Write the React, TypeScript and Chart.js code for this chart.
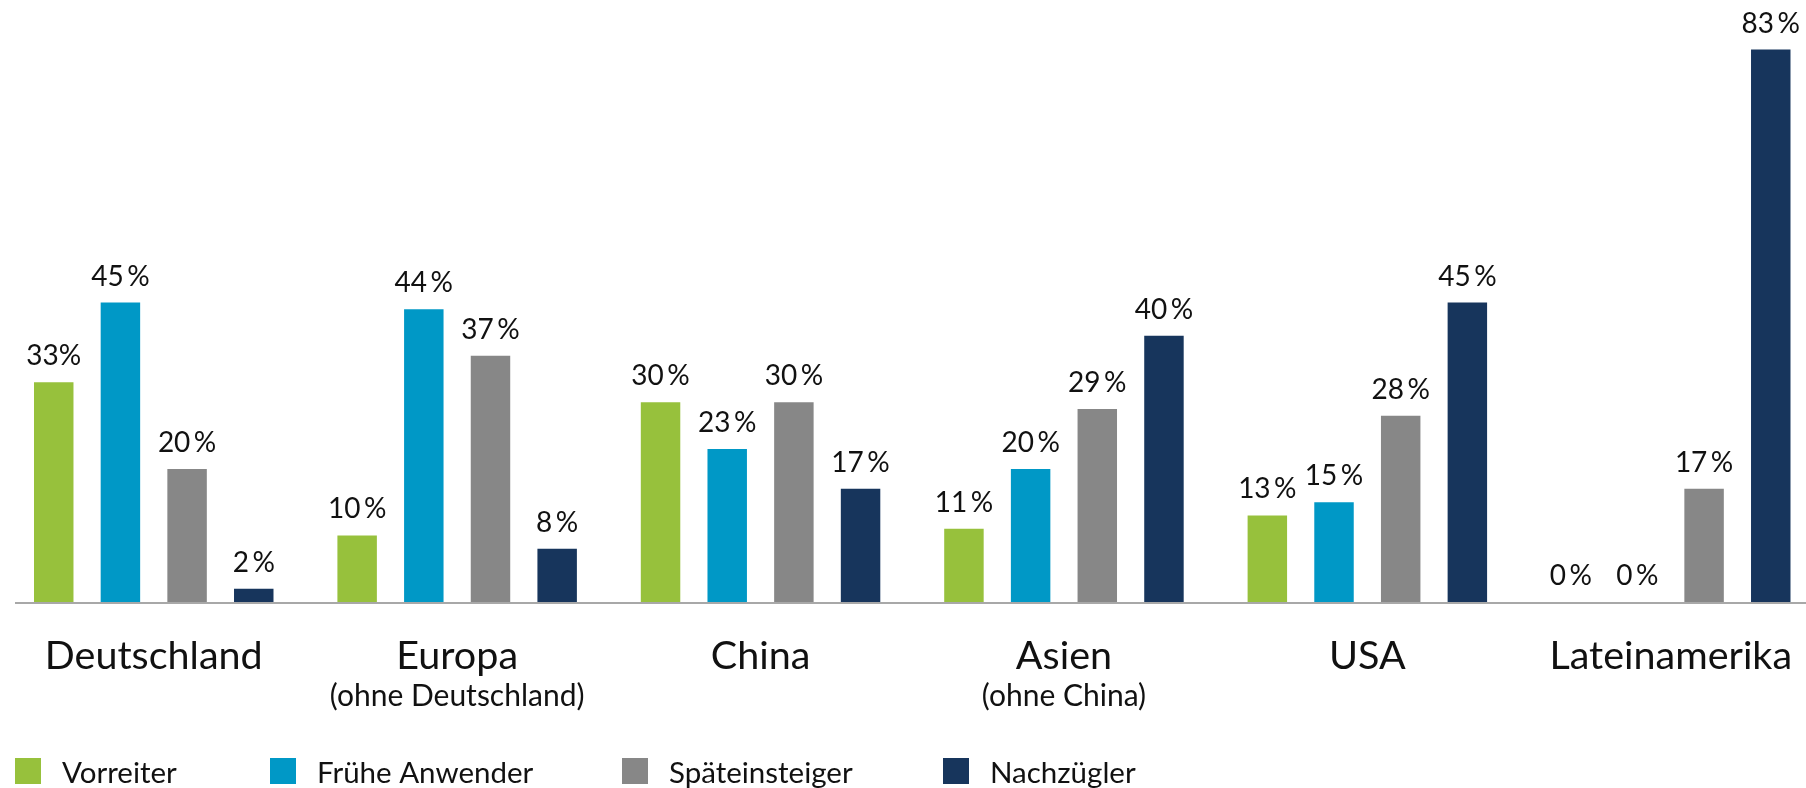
import React, { useEffect, useRef } from "react";
import { Chart, registerables } from "chart.js";

Chart.register(...registerables);

// ---- data ----
const categories = ["Deutschland", "Europa", "China", "Asien", "USA", "Lateinamerika"];
const subLabels = ["", "(ohne Deutschland)", "", "(ohne China)", "", ""];
const seriesNames = ["Vorreiter", "Frühe Anwender", "Späteinsteiger", "Nachzügler"];
const vorreiter = [33, 10, 30, 11, 13, 0];
const fruheAnwender = [45, 44, 23, 20, 15, 0];
const spaeteinsteiger = [20, 37, 30, 29, 28, 17];
const nachzuegler = [2, 8, 17, 40, 45, 83];
const seriesColors = ["#97c13c", "#0098c6", "#878787", "#17355c"];

const FONT = "Lato, 'Open Sans', sans-serif";
const W = 1806;
const H = 788;

function fmt(v: number, di: number, i: number) {
  // first label in the reference is printed without the narrow space
  return di === 0 && i === 0 ? `${v}%` : `${v}\u2009%`;
}

const valueLabelPlugin = {
  id: "valueLabels",
  afterDatasetsDraw(chart: any) {
    const ctx = chart.ctx;
    ctx.save();
    ctx.font = `28px ${FONT}`;
    ctx.fillStyle = "#111111";
    ctx.textAlign = "center";
    ctx.textBaseline = "alphabetic";
    chart.data.datasets.forEach((ds: any, di: number) => {
      const meta = chart.getDatasetMeta(di);
      meta.data.forEach((el: any, i: number) => {
        ctx.fillText(fmt(ds.data[i], di, i), el.x, el.y - 17);
      });
    });
    ctx.restore();
  },
};

const axisPlugin = {
  id: "baseAxis",
  beforeDatasetsDraw(chart: any) {
    const ctx = chart.ctx;
    const y = chart.scales.y.getPixelForValue(0) + 1;
    ctx.save();
    ctx.strokeStyle = "#a8a8a8";
    ctx.lineWidth = 2;
    ctx.beginPath();
    ctx.moveTo(15, y);
    ctx.lineTo(W, y);
    ctx.stroke();
    ctx.restore();
  },
};

const categoryLabelPlugin = {
  id: "categoryLabels",
  afterDraw(chart: any) {
    const ctx = chart.ctx;
    const xs = chart.scales.x;
    ctx.save();
    ctx.fillStyle = "#111111";
    ctx.textAlign = "center";
    ctx.textBaseline = "alphabetic";
    categories.forEach((c, i) => {
      const x = xs.getPixelForValue(i);
      ctx.font = `39.5px ${FONT}`;
      ctx.fillText(c, x, 669);
      if (subLabels[i]) {
        ctx.font = `30px ${FONT}`;
        ctx.fillText(subLabels[i], x, 706);
      }
    });
    ctx.restore();
  },
};

const legendX = [15, 270, 622, 943];
const legendPlugin = {
  id: "customLegend",
  afterDraw(chart: any) {
    const ctx = chart.ctx;
    ctx.save();
    ctx.textAlign = "left";
    ctx.textBaseline = "alphabetic";
    ctx.font = `29.5px ${FONT}`;
    seriesNames.forEach((n, i) => {
      ctx.fillStyle = seriesColors[i];
      ctx.fillRect(legendX[i], 758, 26, 26);
      ctx.fillStyle = "#111111";
      ctx.fillText(n, legendX[i] + 47, 783);
    });
    ctx.restore();
  },
};

export default function App() {
  const ref = useRef<HTMLCanvasElement | null>(null);
  useEffect(() => {
    if (!ref.current) return;
    const seriesData = [vorreiter, fruheAnwender, spaeteinsteiger, nachzuegler];
    const chart = new Chart(ref.current, {
      type: "bar",
      data: {
        labels: categories,
        datasets: seriesData.map((d, i) => ({
          label: seriesNames[i],
          data: d,
          backgroundColor: seriesColors[i],
          borderWidth: 0,
          categoryPercentage: 0.879,
          barPercentage: 0.592,
          clip: false as any,
        })),
      },
      options: {
        responsive: false,
        animation: false,
        devicePixelRatio: 1,
        layout: { padding: { left: 153.75, right: 135.25, top: 3, bottom: 186 } },
        plugins: { legend: { display: false }, tooltip: { enabled: false } },
        scales: {
          x: { type: "category", display: false, offset: false, grid: { display: false } },
          y: { display: false, min: 0, max: 90, grid: { display: false } },
        },
      },
      plugins: [axisPlugin, valueLabelPlugin, categoryLabelPlugin, legendPlugin],
    });
    return () => chart.destroy();
  }, []);
  return (
    <div style={{ position: "absolute", left: 0, top: 0, width: W, height: H, background: "#ffffff" }}>
      <canvas ref={ref} width={W} height={H} style={{ display: "block" }} />
    </div>
  );
}
